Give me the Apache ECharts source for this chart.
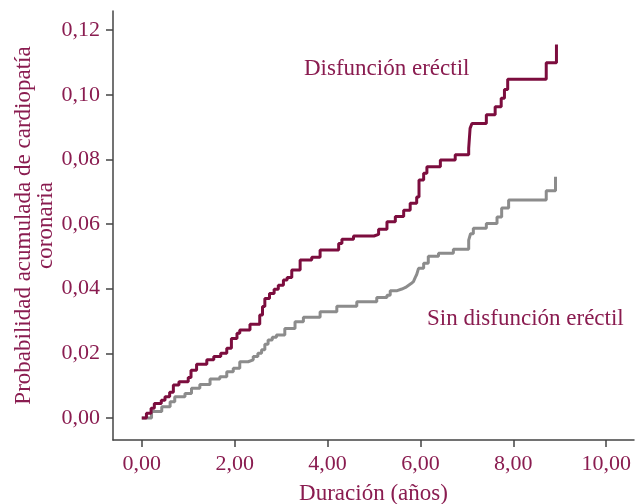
<!DOCTYPE html>
<html>
<head>
<meta charset="utf-8">
<script src="https://cdn.jsdelivr.net/npm/echarts@6/dist/echarts.min.js"></script>
<style>
  html, body { margin: 0; padding: 0; background: #fff; }
  #chart { width: 635px; height: 504px; }
</style>
</head>
<body>
<div id="chart"></div>
<script>
// tick values
var xTicks = [0, 2, 4, 6, 8, 10];
var yTicks = [0, 0.02, 0.04, 0.06, 0.08, 0.10, 0.12];

// Disfunción eréctil (step points: duración, probabilidad)
var edX = [0.00, 0.10, 0.20, 0.27, 0.42, 0.50, 0.60, 0.68, 0.80, 1.00, 1.06, 1.18, 1.40, 1.55, 1.70, 1.83, 1.93, 2.05, 2.11, 2.33,
    2.54, 2.60, 2.65, 2.75, 2.85, 2.94, 3.05, 3.13, 3.23, 3.41, 3.66, 3.84, 4.24, 4.31, 4.56, 5.00, 5.10, 5.28, 5.46, 5.64,
    5.78, 5.92, 5.97, 6.07, 6.14, 6.43, 6.75, 7.04, 7.07, 7.11, 7.42, 7.61, 7.74, 7.81, 7.88, 8.71, 8.93];
var edY = [0.0000, 0.0015, 0.0030, 0.0045, 0.0055, 0.0066, 0.0080, 0.0102, 0.0112, 0.0125, 0.0148, 0.0166, 0.0180, 0.0190, 0.0200, 0.0216, 0.0246, 0.0262, 0.0272, 0.0290,
    0.0319, 0.0345, 0.0370, 0.0385, 0.0398, 0.0411, 0.0427, 0.0435, 0.0458, 0.0489, 0.0497, 0.0520, 0.0540, 0.0553, 0.0563, 0.0568, 0.0584, 0.0607, 0.0623, 0.0643,
    0.0664, 0.0684, 0.0736, 0.0757, 0.0777, 0.0798, 0.0814, 0.0834, 0.0896, 0.0911, 0.0938, 0.0963, 0.0989, 0.1016, 0.1048, 0.1099, 0.1155];

// Sin disfunción eréctil
var noX = [0.00, 0.21, 0.43, 0.61, 0.71, 0.93, 1.07, 1.25, 1.47, 1.68, 1.83, 1.97, 2.11, 2.29, 2.40, 2.50, 2.58, 2.65, 2.72, 2.81,
    2.90, 3.08, 3.30, 3.48, 3.84, 4.20, 4.63, 5.06, 5.28, 5.35, 5.50, 5.60, 5.68, 5.74, 5.80, 5.85, 5.89, 5.92, 5.96, 6.07,
    6.17, 6.39, 6.71, 7.04, 7.08, 7.14, 7.42, 7.65, 7.75, 7.90, 8.71, 8.91];
var noY = [0.0000, 0.0020, 0.0035, 0.0050, 0.0066, 0.0076, 0.0092, 0.0104, 0.0121, 0.0128, 0.0143, 0.0154, 0.0174, 0.0180, 0.0190, 0.0200, 0.0211, 0.0228, 0.0241, 0.0250,
    0.0257, 0.0277, 0.0298, 0.0312, 0.0329, 0.0346, 0.0360, 0.0373, 0.0380, 0.0394, 0.0399, 0.0404, 0.0410, 0.0416, 0.0422, 0.0428, 0.0435, 0.0444, 0.0463, 0.0479,
    0.0500, 0.0510, 0.0522, 0.0550, 0.0570, 0.0587, 0.0602, 0.0622, 0.0650, 0.0674, 0.0703, 0.0746];

function pairs(xs, ys) {
    return xs.map(function (x, i) { return [x, ys[i]]; });
}

var textColor = '#8a1c50';
var axisColor = '#444';
var serif = '"Liberation Serif", "DejaVu Serif", serif';

var myChart = echarts.init(document.getElementById('chart'));
var option = {
    animation: false,
    grid: {
        left: 113,
        right: 1,
        top: 11,
        bottom: 64,
        outerBoundsMode: 'none'
    },
    xAxis: {
        type: 'value',
        min: -0.62,
        max: 10.6,
        name: 'Duración (años)',
        nameLocation: 'middle',
        nameGap: 42,
        nameMoveOverlap: false,
        nameTextStyle: {
            color: textColor,
            fontFamily: serif,
            fontSize: 23
        },
        axisLine: {
            show: true,
            onZero: false,
            lineStyle: { color: axisColor, width: 1.5 }
        },
        axisTick: {
            show: true,
            length: 7,
            customValues: xTicks,
            lineStyle: { color: axisColor, width: 1.5 }
        },
        axisLabel: {
            customValues: xTicks,
            margin: 13,
            color: textColor,
            fontFamily: serif,
            fontSize: 22,
            formatter: function (v) { return v.toFixed(2).replace('.', ','); }
        },
        splitLine: { show: false }
    },
    yAxis: {
        type: 'value',
        min: -0.0068,
        max: 0.1259,
        name: 'Probabilidad acumulada de cardiopatía\ncoronaria',
        nameLocation: 'middle',
        nameGap: 56,
        nameMoveOverlap: false,
        nameTextStyle: {
            color: textColor,
            fontFamily: serif,
            fontSize: 23,
            lineHeight: 22,
            align: 'center'
        },
        axisLine: {
            show: true,
            onZero: false,
            lineStyle: { color: axisColor, width: 1.5 }
        },
        axisTick: {
            show: true,
            length: 7,
            customValues: yTicks,
            lineStyle: { color: axisColor, width: 1.5 }
        },
        axisLabel: {
            customValues: yTicks,
            margin: 13,
            color: textColor,
            fontFamily: serif,
            fontSize: 22,
            formatter: function (v) { return v.toFixed(2).replace('.', ','); }
        },
        splitLine: { show: false }
    },
    graphic: [{
        type: 'text',
        left: 304,
        top: 57,
        style: {
            text: 'Disfunción eréctil',
            fill: textColor,
            font: '23px ' + serif
        }
    }, {
        type: 'text',
        left: 427,
        top: 307,
        style: {
            text: 'Sin disfunción eréctil',
            fill: textColor,
            font: '23px ' + serif
        }
    }],
    series: [{
        name: 'Sin disfunción eréctil',
        type: 'line',
        step: 'end',
        symbol: 'none',
        lineStyle: { color: '#8c8c8c', width: 3 },
        data: pairs(noX, noY)
    }, {
        name: 'Disfunción eréctil',
        type: 'line',
        step: 'end',
        symbol: 'none',
        lineStyle: { color: '#7c0d3e', width: 3 },
        data: pairs(edX, edY)
    }]
};
myChart.setOption(option);
window.addEventListener('resize', function () {
    myChart.resize();
});
</script>
</body>
</html>
